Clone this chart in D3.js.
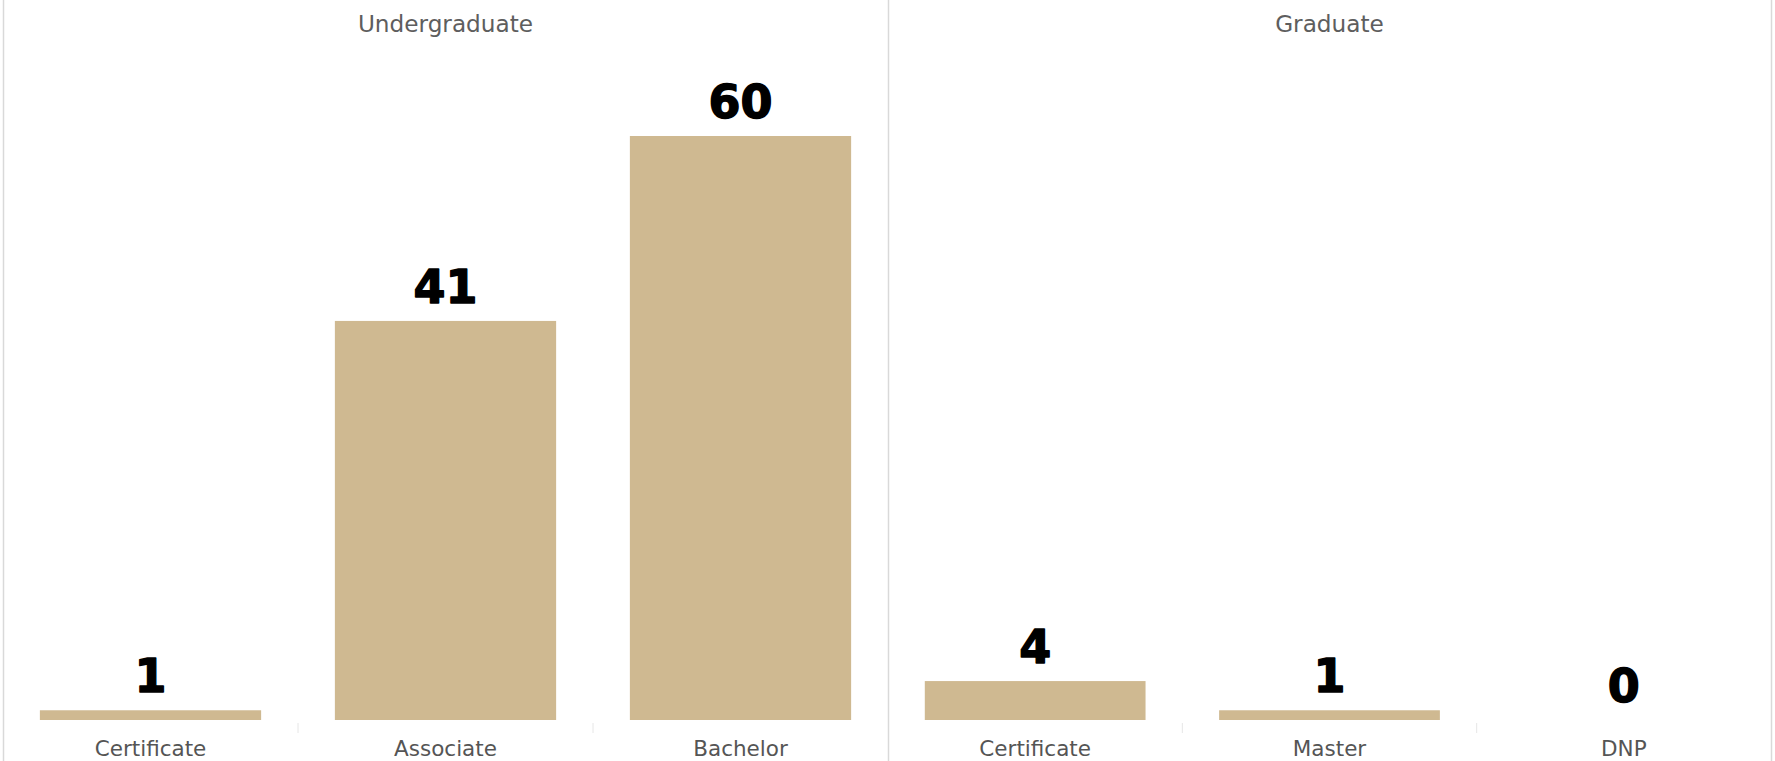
<!DOCTYPE html>
<html>
<head>
<meta charset="utf-8">
<script src="https://cdn.jsdelivr.net/npm/d3@7/dist/d3.min.js"></script>
<style>
  html, body { margin: 0; padding: 0; background: #fff; }
  svg { display: block; }
</style>
</head>
<body>
<script>
// Program counts by degree level
const levels = ["Undergraduate", "Graduate"];
const undergradPrograms = ["Certificate", "Associate", "Bachelor"];
const undergradCounts = [1, 41, 60];
const gradPrograms = ["Certificate", "Master", "DNP"];
const gradCounts = [4, 1, 0];

const W = 1775, H = 761;
const barColor = "#cfb991";
const ruleColor = "#d9d9d9";

const panes = [
  { level: levels[0], programs: undergradPrograms, counts: undergradCounts, x0: 3, x1: 888 },
  { level: levels[1], programs: gradPrograms, counts: gradCounts, x0: 888, x1: 1771 }
];

const svg = d3.select("body").append("svg")
  .attr("width", W).attr("height", H);

const baseY = 720;
const yMax = d3.max(undergradCounts.concat(gradCounts));
const y = d3.scaleLinear().domain([0, yMax]).range([baseY, 136]);

// pane borders
[panes[0].x0, panes[0].x1, panes[1].x1].forEach(x => {
  svg.append("line")
    .attr("x1", x + 0.5).attr("x2", x + 0.5)
    .attr("y1", 0).attr("y2", H)
    .attr("stroke", ruleColor).attr("stroke-width", 1.5);
});

panes.forEach(p => {
  const g = svg.append("g");
  const x = d3.scaleBand()
    .domain(p.programs)
    .range([p.x0, p.x1])
    .paddingInner(0.25)
    .paddingOuter(0.125);
  const data = p.programs.map((c, i) => ({ cat: c, val: p.counts[i] }));

  // header
  g.append("text")
    .attr("x", (p.x0 + p.x1) / 2)
    .attr("y", 32)
    .attr("text-anchor", "middle")
    .attr("font-family", "DejaVu Sans, sans-serif")
    .attr("font-size", 23.2)
    .attr("fill", "#5e5e5e")
    .text(p.level);

  // bars
  g.selectAll("rect.bar").data(data).enter().append("rect")
    .attr("class", "bar")
    .attr("x", d => x(d.cat))
    .attr("width", x.bandwidth())
    .attr("y", d => y(d.val))
    .attr("height", d => baseY - y(d.val))
    .attr("fill", barColor);

  // value labels
  g.selectAll("text.val").data(data).enter().append("text")
    .attr("class", "val")
    .attr("x", d => x(d.cat) + x.bandwidth() / 2)
    .attr("y", d => y(d.val) - 18)
    .attr("text-anchor", "middle")
    .attr("font-family", "DejaVu Sans, sans-serif")
    .attr("font-weight", "bold")
    .attr("font-size", 46)
    .attr("fill", "#000")
    .attr("stroke", "#000")
    .attr("stroke-width", 1.4)
    .attr("stroke-linejoin", "round")
    .text(d => d.val);

  // bottom axis: separators between columns and category labels
  const step = x.step();
  p.programs.slice(1).forEach(c => {
    const sx = x(c) - step * x.paddingInner() / 2;
    g.append("line")
      .attr("x1", sx).attr("x2", sx)
      .attr("y1", 723).attr("y2", 733)
      .attr("stroke", "#e6e6e6").attr("stroke-width", 1);
  });

  g.selectAll("text.cat").data(data).enter().append("text")
    .attr("class", "cat")
    .attr("x", d => x(d.cat) + x.bandwidth() / 2)
    .attr("y", 756)
    .attr("text-anchor", "middle")
    .attr("font-family", "DejaVu Sans, sans-serif")
    .attr("font-size", 21.5)
    .attr("fill", "#555")
    .text(d => d.cat);
});
</script>
</body>
</html>
